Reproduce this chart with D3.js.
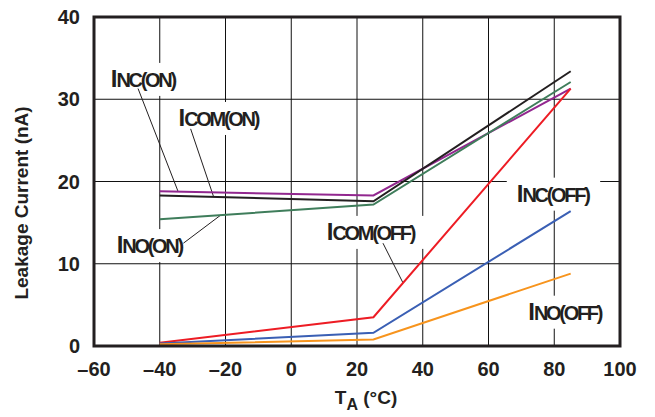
<!doctype html>
<html lang="en">
<head>
<meta charset="utf-8">
<title>leakage current vs temperature</title>
<script src="https://d3js.org/d3.v7.min.js"></script>
<style>
  body { margin: 0; background: #fff; }
  text { font-family: "Liberation Sans", Arial, sans-serif; font-weight: bold; fill: #231f20; }
</style>
</head>
<body>
<div id="chart"></div>
<script>
// temperatures (deg C) where each curve was read
var temps = [-40, 25, 85];

// leakage current (nA)
var nc_on   = [18.8, 18.3, 31.3];
var com_on  = [18.3, 17.6, 33.4];
var no_on   = [15.4, 17.2, 32.1];
var com_off = [0.4, 3.5, 31.3];
var nc_off  = [0.3, 1.6, 16.4];
var no_off  = [0.2, 0.8, 8.8];

var x_ticks = [-60, -40, -20, 0, 20, 40, 60, 80, 100];
var y_ticks = [0, 10, 20, 30, 40];

// label anchors and leader lines, data units
var labels = [
  {main: "I", sub: "NC(ON)",   t: -54.9, v: 31.5,  lead: [-46.6, 31.3, -34.4, 18.76]},
  {main: "I", sub: "COM(ON)",  t: -34.3, v: 26.75, lead: [-30.6, 26.4, -23.6, 18.12]},
  {main: "I", sub: "NO(ON)",   t: -53.1, v: 11.3,  lead: [-32.8, 12.5, -21.5, 15.9]},
  {main: "I", sub: "COM(OFF)", t: 10.8,  v: 12.9,  lead: [27.9, 12.5, 34.0, 7.67]},
  {main: "I", sub: "NC(OFF)",  t: 68.6,  v: 17.55, lead: null},
  {main: "I", sub: "NO(OFF)",  t: 72.1,  v: 3.2,   lead: null}
];

var series = [
  {vals: nc_on,   color: "#92278f"},
  {vals: com_on,  color: "#231f20"},
  {vals: no_on,   color: "#3f7d5b"},
  {vals: com_off, color: "#ed1c24"},
  {vals: nc_off,  color: "#3a5fb4"},
  {vals: no_off,  color: "#f7941d"}
];

var svg = d3.select("#chart").append("svg")
  .attr("width", 655)
  .attr("height", 417);

var x = d3.scaleLinear().domain([-60, 100]).range([94, 620]);
var y = d3.scaleLinear().domain([0, 40]).range([346, 17]);

// grid
svg.append("g").selectAll("line").data(x_ticks.slice(1, -1)).enter().append("line")
  .attr("x1", d => x(d)).attr("x2", d => x(d))
  .attr("y1", y(40)).attr("y2", y(0))
  .style("stroke", "#111").style("stroke-width", 1);
svg.append("g").selectAll("line").data(y_ticks.slice(1, -1)).enter().append("line")
  .attr("x1", x(-60)).attr("x2", x(100))
  .attr("y1", d => y(d)).attr("y2", d => y(d))
  .style("stroke", "#111").style("stroke-width", 1);

// tick labels
svg.append("g").selectAll("text").data(x_ticks).enter().append("text")
  .attr("x", d => x(d))
  .attr("y", 376)
  .attr("text-anchor", "middle")
  .style("font-size", "20px")
  .text(d => d < 0 ? "\u2013" + Math.abs(d) : d);
svg.append("g").selectAll("text").data(y_ticks).enter().append("text")
  .attr("x", 80)
  .attr("y", d => y(d) + 7)
  .attr("text-anchor", "end")
  .style("font-size", "20px")
  .text(d => d);

// axis titles
var xt = svg.append("text").attr("x", 366).attr("y", 404).attr("text-anchor", "middle").style("font-size", "19px");
xt.append("tspan").text("T");
xt.append("tspan").attr("dy", 6).style("font-size", "16px").text("A");
xt.append("tspan").attr("dy", -6).text(" (\u00b0C)");

svg.append("text")
  .attr("transform", "translate(28,203) rotate(-90)")
  .attr("text-anchor", "middle")
  .style("font-size", "19px")
  .text("Leakage Current (nA)");

// curve labels on white boxes
var lab = svg.append("g").selectAll("g").data(labels).enter().append("g");
lab.each(function(d) {
  var g = d3.select(this);
  var tx = g.append("text").attr("x", x(d.t)).attr("y", y(d.v));
  tx.append("tspan").style("font-size", "24px").style("letter-spacing", "-1px").text(d.main);
  tx.append("tspan").style("font-size", "20px").style("letter-spacing", "-2.3px").text(d.sub);
  var b = tx.node().getBBox();
  g.insert("rect", "text")
    .attr("x", b.x - 10).attr("y", b.y - 2)
    .attr("width", b.width + 20).attr("height", b.height + 6)
    .style("fill", "#fff");
});

// leader lines
svg.append("g").selectAll("line").data(labels.filter(d => d.lead)).enter().append("line")
  .attr("x1", d => x(d.lead[0])).attr("y1", d => y(d.lead[1]))
  .attr("x2", d => x(d.lead[2])).attr("y2", d => y(d.lead[3]))
  .style("stroke", "#231f20").style("stroke-width", 1);

// curves
var line = d3.line().x((d, i) => x(temps[i])).y(d => y(d));
svg.append("g").selectAll("path").data(series).enter().append("path")
  .attr("d", d => line(d.vals))
  .style("fill", "none")
  .style("stroke", d => d.color)
  .style("stroke-width", 2);

// frame
svg.append("rect")
  .attr("x", x(-60)).attr("y", y(40))
  .attr("width", x(100) - x(-60)).attr("height", y(0) - y(40))
  .style("fill", "none").style("stroke", "#231f20").style("stroke-width", 3);
</script>
</body>
</html>
